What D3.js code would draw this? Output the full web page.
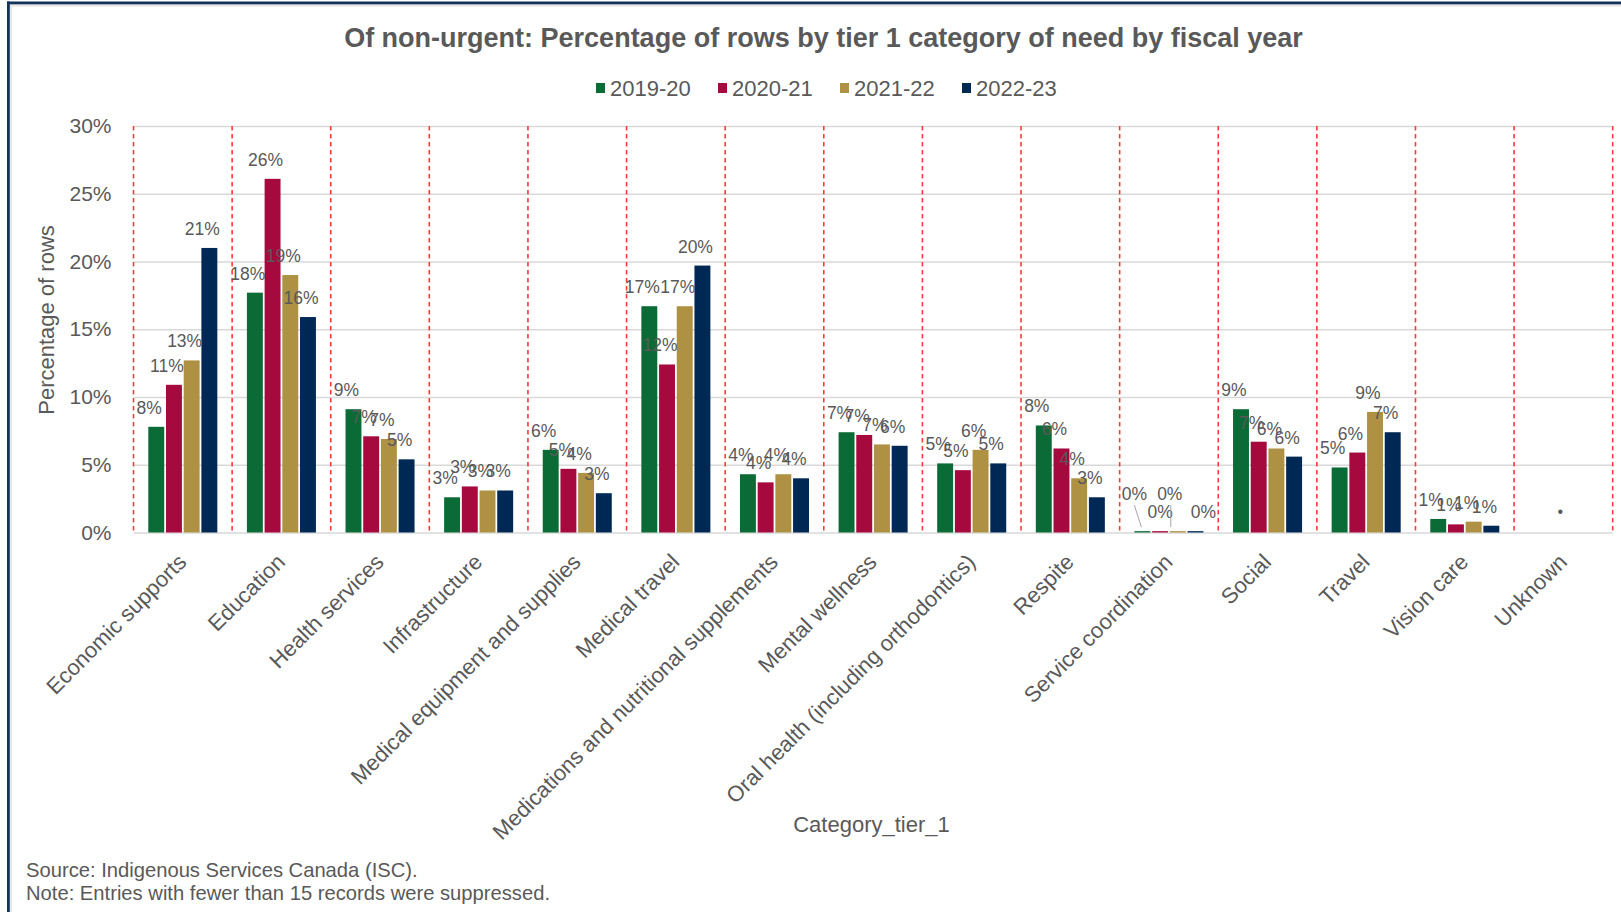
<!DOCTYPE html>
<html>
<head>
<meta charset="utf-8">
<script src="https://cdn.jsdelivr.net/npm/d3@7/dist/d3.min.js"></script>
<style>
  html, body { margin: 0; padding: 0; background: #fff; }
  svg { display: block; }
  text { font-family: "Liberation Sans", Arial, sans-serif; fill: #595959; }
</style>
</head>
<body>
<svg id="chart" width="1621" height="912"></svg>
<script>
// ---------------- data ----------------
const categories = [
  "Economic supports", "Education", "Health services", "Infrastructure",
  "Medical equipment and supplies", "Medical travel",
  "Medications and nutritional supplements", "Mental wellness",
  "Oral health (including orthodontics)", "Respite", "Service coordination",
  "Social", "Travel", "Vision care", "Unknown"
];
const seriesNames = ["2019-20", "2020-21", "2021-22", "2022-23"];
const seriesColors = ["#0b6b36", "#a6093d", "#ae9142", "#002855"];
// percentage of rows, one array per fiscal year (null = suppressed)
const fy2019_20 = [7.8, 17.7, 9.1, 2.6, 6.1, 16.7, 4.3, 7.4, 5.1, 7.9, 0.1, 9.1, 4.8, 1.0, null];
const fy2020_21 = [10.9, 26.1, 7.1, 3.4, 4.7, 12.4, 3.7, 7.2, 4.6, 6.2, 0.1, 6.7, 5.9, 0.6, null];
const fy2021_22 = [12.7, 19.0, 6.9, 3.1, 4.4, 16.7, 4.3, 6.5, 6.1, 4.0, 0.1, 6.2, 8.9, 0.8, null];
const fy2022_23 = [21.0, 15.9, 5.4, 3.1, 2.9, 19.7, 4.0, 6.4, 5.1, 2.6, 0.1, 5.6, 7.4, 0.5, null];
const seriesValues = [fy2019_20, fy2020_21, fy2021_22, fy2022_23];
const yTicks = [0, 5, 10, 15, 20, 25, 30];
const suppressedLabel = "•";

const titleText = "Of non-urgent: Percentage of rows by tier 1 category of need by fiscal year";
const yTitle = "Percentage of rows";
const xTitle = "Category_tier_1";
const sourceText = "Source: Indigenous Services Canada (ISC).";
const noteText = "Note: Entries with fewer than 15 records were suppressed.";

// ---------------- layout ----------------
const svg = d3.select("#chart");
const W = 1621, H = 912;
const plot = { left: 133.5, right: 1612.7, top: 126, bottom: 532.5 };

svg.append("rect").attr("width", W).attr("height", H).attr("fill", "#fff");

// frame (top and left edges)
svg.append("rect").attr("x", 9).attr("y", 4).attr("width", W).attr("height", 2.5).attr("fill", "#e6e6e6");
svg.append("rect").attr("x", 9.5).attr("y", 4).attr("width", 2.5).attr("height", H).attr("fill", "#e6e6e6");
svg.append("rect").attr("x", 7).attr("y", 1.5).attr("width", W).attr("height", 2.8).attr("fill", "#14325a");
svg.append("rect").attr("x", 7).attr("y", 1.5).attr("width", 2.8).attr("height", H).attr("fill", "#14325a");

const x0 = d3.scaleBand().domain(categories).range([plot.left, plot.right]).padding(0);
const bw = x0.bandwidth();
const x1 = d3.scaleBand().domain(seriesNames).range([bw * 0.15, bw * 0.85]).paddingInner(0.1).paddingOuter(0);
const y = d3.scaleLinear().domain([0, 30]).range([plot.bottom, plot.top]);

// horizontal gridlines
const yAxis = d3.axisLeft(y).tickValues(yTicks).tickSize(-(plot.right - plot.left)).tickFormat(d => d + "%").tickPadding(22);
const gy = svg.append("g").attr("transform", `translate(${plot.left},0)`).call(yAxis);
gy.select(".domain").remove();
gy.selectAll(".tick line").attr("stroke", "#d9d9d9").attr("stroke-width", 1.6);
gy.selectAll(".tick text").attr("font-size", 21).attr("fill", "#595959")
  .style("font-family", '"Liberation Sans", Arial, sans-serif');

// red dashed separators at category boundaries
const bounds = categories.map(c => x0(c)).concat([plot.right]);
svg.append("g").selectAll("line").data(bounds).join("line")
  .attr("x1", d => d).attr("x2", d => d)
  .attr("y1", plot.top).attr("y2", plot.bottom)
  .attr("stroke", "#ff3b3b").attr("stroke-width", 1.6).attr("stroke-dasharray", "4.5,3.5");

// bars
const flat = [];
categories.forEach((c, ci) => {
  seriesNames.forEach((s, si) => {
    flat.push({ cat: c, ci, s, si, v: seriesValues[si][ci] });
  });
});
const present = flat.filter(d => d.v !== null);

svg.append("g").selectAll("rect").data(present).join("rect")
  .attr("x", d => x0(d.cat) + x1(d.s))
  .attr("y", d => y(d.v))
  .attr("width", x1.bandwidth())
  .attr("height", d => Math.max(1.2, y(0) - y(d.v)))
  .attr("fill", d => seriesColors[d.si]);

// data labels
const lblG = svg.append("g");
present.forEach(d => {
  const bx = x0(d.cat) + x1(d.s) + x1.bandwidth() / 2;
  const top = y(d.v);
  let lx = bx - 7, ly = top - 13;
  const tiny = d.v < 0.5;
  if (tiny) {
    if (d.si % 2 === 0) {
      lx = bx - 8; ly = top - 31;
      lblG.append("line")
        .attr("x1", d.si === 0 ? lx : lx + 1).attr("y1", ly + 5)
        .attr("x2", d.si === 0 ? bx - 1 : lx + 1).attr("y2", top - 4)
        .attr("stroke", "#a6a6a6").attr("stroke-width", 1);
    } else {
      lx = bx + (d.si === 3 ? 8 : 0); ly = top - 13;
    }
  }
  lblG.append("text")
    .attr("x", lx).attr("y", ly)
    .attr("text-anchor", "middle")
    .attr("font-size", 17.5)
    .text(Math.round(d.v) + "%");
});
// suppressed marker
categories.forEach((c, ci) => {
  const allNull = seriesValues.every(sv => sv[ci] === null);
  if (allNull) {
    svg.append("text")
      .attr("x", x0(c) + bw / 2 - 3).attr("y", y(0) - 16)
      .attr("text-anchor", "middle").attr("font-size", 16)
      .text(suppressedLabel);
  }
});

// x axis labels (rotated)
svg.append("g").selectAll("text").data(categories).join("text")
  .attr("transform", d => `translate(${x0(d) + bw / 2 - 6},${plot.bottom + 20}) rotate(-45)`)
  .attr("text-anchor", "end")
  .attr("dy", "0.7em")
  .attr("font-size", 22)
  .text(d => d);

// title
svg.append("text")
  .attr("x", 823.5).attr("y", 38)
  .attr("text-anchor", "middle").attr("dominant-baseline", "central")
  .attr("font-size", 27).attr("font-weight", "bold")
  .text(titleText);

// legend
const legend = svg.append("g").attr("transform", "translate(596,88)");
const itemStep = 122;
seriesNames.forEach((s, i) => {
  const g = legend.append("g").attr("transform", `translate(${i * itemStep},0)`);
  g.append("rect").attr("x", 0).attr("y", -5).attr("width", 9).attr("height", 10).attr("fill", seriesColors[i]);
  g.append("text").attr("x", 14).attr("y", 0).attr("dominant-baseline", "central")
    .attr("font-size", 22).text(s);
});

// axis titles
svg.append("text")
  .attr("transform", "translate(46.5,320) rotate(-90)")
  .attr("text-anchor", "middle").attr("dominant-baseline", "central")
  .attr("font-size", 22).text(yTitle);
svg.append("text")
  .attr("x", 871.5).attr("y", 824)
  .attr("text-anchor", "middle").attr("dominant-baseline", "central")
  .attr("font-size", 22).text(xTitle);

// footnotes
svg.append("text").attr("x", 26).attr("y", 870).attr("dominant-baseline", "central")
  .attr("font-size", 20.2).text(sourceText);
svg.append("text").attr("x", 26).attr("y", 893).attr("dominant-baseline", "central")
  .attr("font-size", 20.2).text(noteText);
</script>
</body>
</html>
